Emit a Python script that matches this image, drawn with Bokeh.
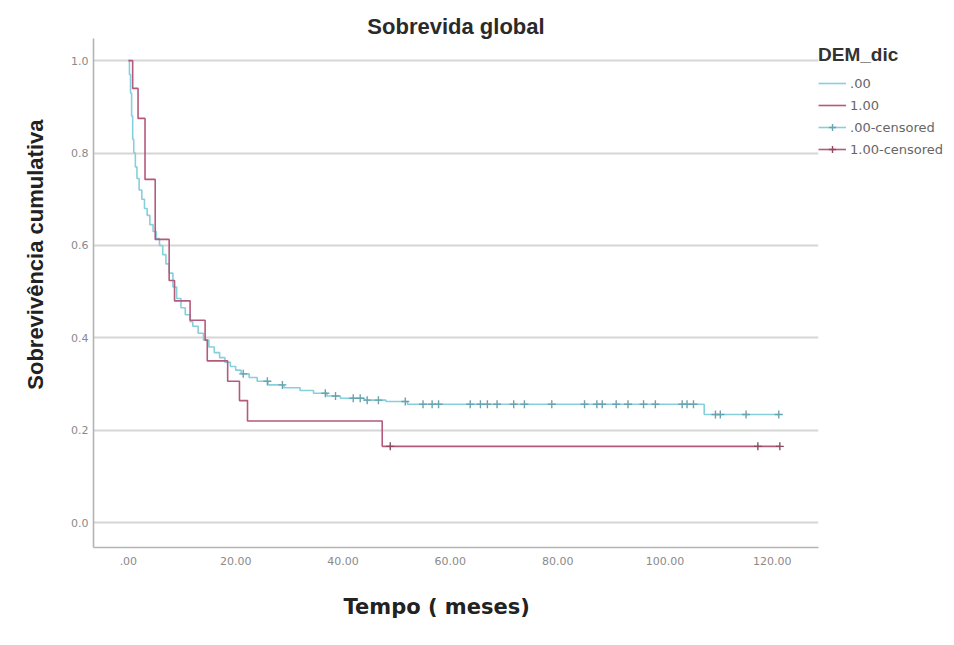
import numpy as np
from bokeh.plotting import figure
from bokeh.models import Legend, LegendItem, FixedTicker, Range1d, Title
from bokeh.embed import file_html
from bokeh.resources import INLINE

# ---------------- data ----------------
title_text = "Sobrevida global"
x_label = "Tempo ( meses)"
y_label = "Sobrevivência cumulativa"
legend_title = "DEM_dic"
series_names = [".00", "1.00", ".00-censored", "1.00-censored"]

x_ticks = [0, 20, 40, 60, 80, 100, 120]
x_tick_labels = [".00", "20.00", "40.00", "60.00", "80.00", "100.00", "120.00"]
y_ticks = [0.0, 0.2, 0.4, 0.6, 0.8, 1.0]
y_tick_labels = ["0.0", "0.2", "0.4", "0.6", "0.8", "1.0"]

# group .00 (Kaplan-Meier steps)
blue_t = [0, 0.2, 0.4, 0.6, 0.8, 1.0, 1.3, 1.6, 2.0, 2.5, 3.0, 3.5, 4.0, 4.6, 5.2, 5.8,
          6.4, 7.0, 7.6, 8.3, 9.0, 9.8, 10.6, 11.5, 12.0, 13.0, 14.0, 15.0, 16.0, 17.0,
          18.0, 19.0, 20.0, 21.0, 22.5, 24.0, 26.0, 29.0, 32.0, 34.5, 37.0, 39.5, 44.0,
          48.0, 52.0, 107.3, 121.2]
blue_s = [1.0, 0.97, 0.93, 0.88, 0.83, 0.80, 0.77, 0.745, 0.72, 0.70, 0.68, 0.665, 0.645,
          0.63, 0.615, 0.60, 0.58, 0.56, 0.54, 0.51, 0.485, 0.465, 0.45, 0.435, 0.425, 0.41,
          0.395, 0.38, 0.368, 0.357, 0.347, 0.338, 0.33, 0.322, 0.314, 0.306, 0.298, 0.292,
          0.286, 0.28, 0.274, 0.269, 0.265, 0.262, 0.256, 0.234, 0.234]
blue_cens_t = [21.4, 25.9, 28.7, 36.7, 38.6, 41.9, 43.2, 44.5, 46.6, 51.6, 54.9, 56.6, 57.8,
               63.7, 65.6, 66.9, 68.7, 71.8, 73.8, 78.9, 85.0, 87.3, 88.3, 90.9, 93.1, 96.0,
               98.2, 103.2, 104.1, 105.3, 109.4, 110.3, 115.1, 121.2]

# group 1.00
red_t = [0, 0.8, 1.8, 3.1, 5.0, 7.6, 8.6, 11.5, 14.3, 14.7, 18.5, 20.7, 22.2, 47.3, 121.4]
red_s = [1.0, 0.94, 0.875, 0.743, 0.613, 0.524, 0.48, 0.438, 0.395, 0.35, 0.306, 0.264,
         0.22, 0.165, 0.165]
red_cens_t = [48.8, 117.3, 121.4]


def km_at(ts, ss, q):
    idx = np.searchsorted(np.array(ts), np.array(q), side="right") - 1
    return list(np.array(ss)[idx])


blue_cens_s = km_at(blue_t, blue_s, blue_cens_t)
red_cens_s = km_at(red_t, red_s, red_cens_t)

BLUE = "#86cfdd"
BLUE_DARK = "#6aa3b0"
RED = "#b45a7c"
RED_DARK = "#8e4a62"
FONT = "Liberation Sans"
FONT2 = "DejaVu Sans"

p = figure(frame_width=725, frame_height=509, output_backend="svg", toolbar_location=None,
           x_range=Range1d(-6.5, 128.6), y_range=Range1d(-0.054, 1.048),
           min_border_left=93, min_border_right=136, min_border_top=38,
           min_border_bottom=98)
p.outline_line_color = None
p.background_fill_color = "white"
p.border_fill_color = "white"

p.title.text = title_text
p.title.align = "center"
p.title.text_font = FONT
p.title.text_font_size = "22px"
p.title.text_font_style = "bold"
p.title.text_color = "#2a2a2a"
p.title.standoff = 0

r_blue = p.step(blue_t, blue_s, mode="after", line_color=BLUE, line_width=1.6)
r_red = p.step(red_t, red_s, mode="after", line_color=RED, line_width=1.6)
r_bc = p.scatter(blue_cens_t, blue_cens_s, marker="cross", size=8, line_color=BLUE_DARK,
                 line_width=1.4)
r_rc = p.scatter(red_cens_t, red_cens_s, marker="cross", size=8, line_color=RED_DARK,
                 line_width=1.4)

# axes
for ax in (p.xaxis, p.yaxis):
    ax.axis_line_color = "#b4b4b4"
    ax.axis_line_width = 1.6
    ax.major_tick_line_color = None
    ax.minor_tick_line_color = None
    ax.major_tick_out = 0
    ax.major_tick_in = 0
    ax.major_label_text_font = FONT2
    ax.major_label_text_font_size = "11px"
    ax.major_label_text_color = "#8a8a8a"

p.xaxis.ticker = FixedTicker(ticks=x_ticks)
p.xaxis.major_label_overrides = {t: l for t, l in zip(x_ticks, x_tick_labels)}
p.yaxis.ticker = FixedTicker(ticks=y_ticks)
p.yaxis.major_label_overrides = {t: l for t, l in zip(y_ticks, y_tick_labels)}
p.xaxis.major_label_standoff = 9
p.yaxis.major_label_standoff = 5

# axis titles (placed as side titles so they can be offset like the reference)
ytitle = Title(text=y_label, align="right", offset=81, standoff=41,
               text_font=FONT, text_font_size="22px", text_font_style="bold",
               text_color="#222222")
p.add_layout(ytitle, "left")
xtitle = Title(text=x_label, align="left", offset=250, standoff=51,
               text_font=FONT2, text_font_size="21px", text_font_style="bold",
               text_color="#222222")
p.add_layout(xtitle, "below")

p.xgrid.grid_line_color = None
p.ygrid.grid_line_color = "#d6d6d6"
p.ygrid.grid_line_width = 1.8

legend = Legend(items=[
    LegendItem(label=series_names[0], renderers=[r_blue]),
    LegendItem(label=series_names[1], renderers=[r_red]),
    LegendItem(label=series_names[2], renderers=[r_blue, r_bc]),
    LegendItem(label=series_names[3], renderers=[r_red, r_rc]),
], title=legend_title, location=(0, 389))
legend.title_text_font = FONT
legend.title_text_font_size = "19px"
legend.title_text_color = "#333333"
legend.title_text_font_style = "bold"
legend.title_standoff = 8
legend.label_text_font = FONT2
legend.label_text_font_size = "13px"
legend.label_text_color = "#666666"
legend.border_line_color = None
legend.background_fill_alpha = 0
legend.glyph_width = 28
legend.glyph_height = 18
legend.label_height = 18
legend.spacing = 4
legend.label_standoff = 4
legend.padding = 6
legend.margin = 0
p.add_layout(legend, "right")

open("out.html", "w").write(file_html(p, INLINE))
